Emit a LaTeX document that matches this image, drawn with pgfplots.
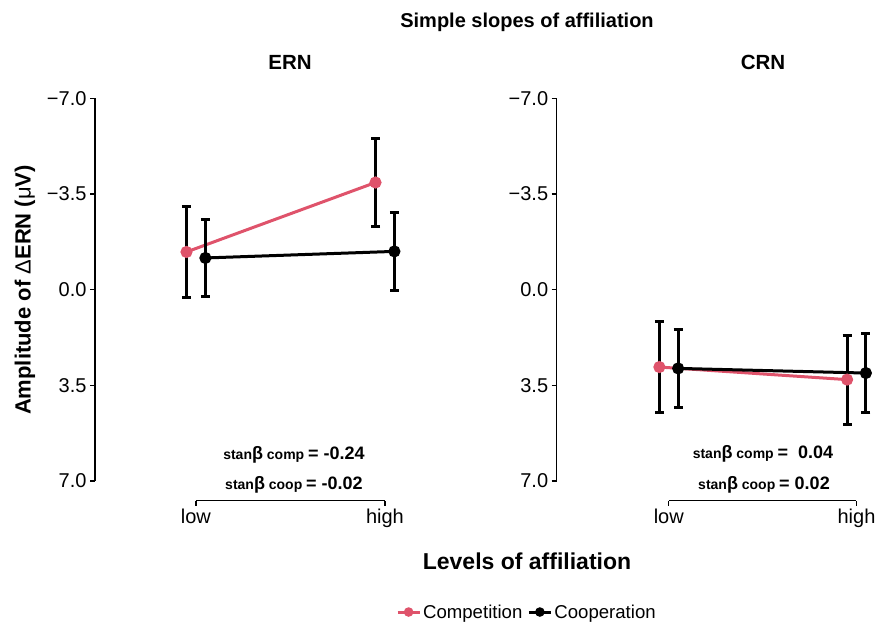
\documentclass[border=0pt]{standalone}
\usepackage{fontspec}
\setmainfont{Liberation Sans}
\usepackage{pgfplots}
\pgfplotsset{compat=1.18}
\definecolor{comp}{RGB}{223,83,107}
\newcommand{\fs}[1]{\fontsize{#1}{#1}\selectfont}
\pgfplotsset{
  panel/.style={
    scale only axis, y dir=reverse, clip=false,
    height=402.4pt, ymin=-7, ymax=7.72,
    axis line style={draw=none},
    ytick={-7,-3.5,0,3.5,7},
    yticklabels={−7.0,−3.5,0.0,3.5,7.0},
    xtick={1,2}, xticklabels={low,high},
    tick align=outside, major tick length=5pt,
    tick style={black, line width=1.3pt},
    ytick pos=left, xtick pos=left,
    tick label style={font=\fs{20}},
    /pgf/number format/assume math mode=true,
    legend image code/.code={\draw[mark repeat=2,mark phase=2,mark size=3.2pt] plot coordinates {(0pt,0pt)(11pt,0pt)(22pt,0pt)};},
  },
  ser/.style={color=#1, line width=3pt, mark=*, mark size=4.5pt, mark options={fill=#1, draw=#1},
    error bars/.cd, y dir=both, y explicit,
    error bar style={black, line width=3pt},
    error mark=|,
    error mark options={black, line width=3pt, mark size=4.5pt}},
}
\begin{document}
\begin{tikzpicture}
\path[use as bounding box] (0pt,0pt) rectangle (878pt,-624pt);
\begin{axis}[panel, at={(95pt,-98.3pt)}, anchor=north west,
  width=318.3pt, xmin=0.466, xmax=2.15,
  legend columns=2,
  legend style={draw=none, fill=none, font=\fs{18.6}, at={(axis description cs:1.357,-0.2766)}, anchor=center,
    /tikz/every even column/.append style={column sep=3pt}},
  ]
\draw[line width=1.3pt] (axis cs:0.466,-7) -- (axis cs:0.466,7);
\draw[line width=1.3pt] (axis cs:1,7.72) -- (axis cs:2,7.72);
\addplot[ser=comp] coordinates {(0.95,-1.38) +- (0,1.65) (1.95,-3.92) +- (0,1.62)};
\addlegendentry{Competition}
\addplot[ser=black] coordinates {(1.05,-1.16) +- (0,1.42) (2.05,-1.40) +- (0,1.43)};
\addlegendentry{Cooperation}
\end{axis}
\begin{axis}[panel, at={(556.7pt,-98.3pt)}, anchor=north west,
  width=314.8pt, xmin=0.403, xmax=2.08]
\draw[line width=1.3pt] (axis cs:0.403,-7) -- (axis cs:0.403,7);
\draw[line width=1.3pt] (axis cs:1,7.72) -- (axis cs:2,7.72);
\addplot[ser=comp] coordinates {(0.95,2.83) +- (0,1.65) (1.95,3.29) +- (0,1.63)};
\addplot[ser=black] coordinates {(1.05,2.88) +- (0,1.42) (2.05,3.05) +- (0,1.43)};
\end{axis}
\node[font=\bfseries\fs{20}] at (527pt,-22pt) {Simple slopes of affiliation};
\node[font=\bfseries\fs{20.5}] at (290pt,-62pt) {ERN};
\node[font=\bfseries\fs{20.5}] at (763pt,-62pt) {CRN};
\node[font=\bfseries\fs{23}] at (527pt,-561pt) {Levels of affiliation};
\node[font=\bfseries\fs{22}, rotate=90] at (25pt,-290pt) {Amplitude of {\mdseries Δ}ERN ({\mdseries μ}V)};
\node[font=\bfseries, anchor=center] at (294pt,-455pt) {\fs{14}stan\fs{18}β\fs{14} comp \fs{18}= -0.24};
\node[font=\bfseries, anchor=center] at (294pt,-485pt) {\fs{14}stan\fs{18}β\fs{14} coop \fs{18}= -0.02};
\node[font=\bfseries, anchor=center] at (763pt,-454pt) {\fs{14}stan\fs{18}β\fs{14} comp \fs{18}=~~0.04};
\node[font=\bfseries, anchor=center] at (764pt,-485pt) {\fs{14}stan\fs{18}β\fs{14} coop \fs{18}= 0.02};
\end{tikzpicture}
\end{document}
